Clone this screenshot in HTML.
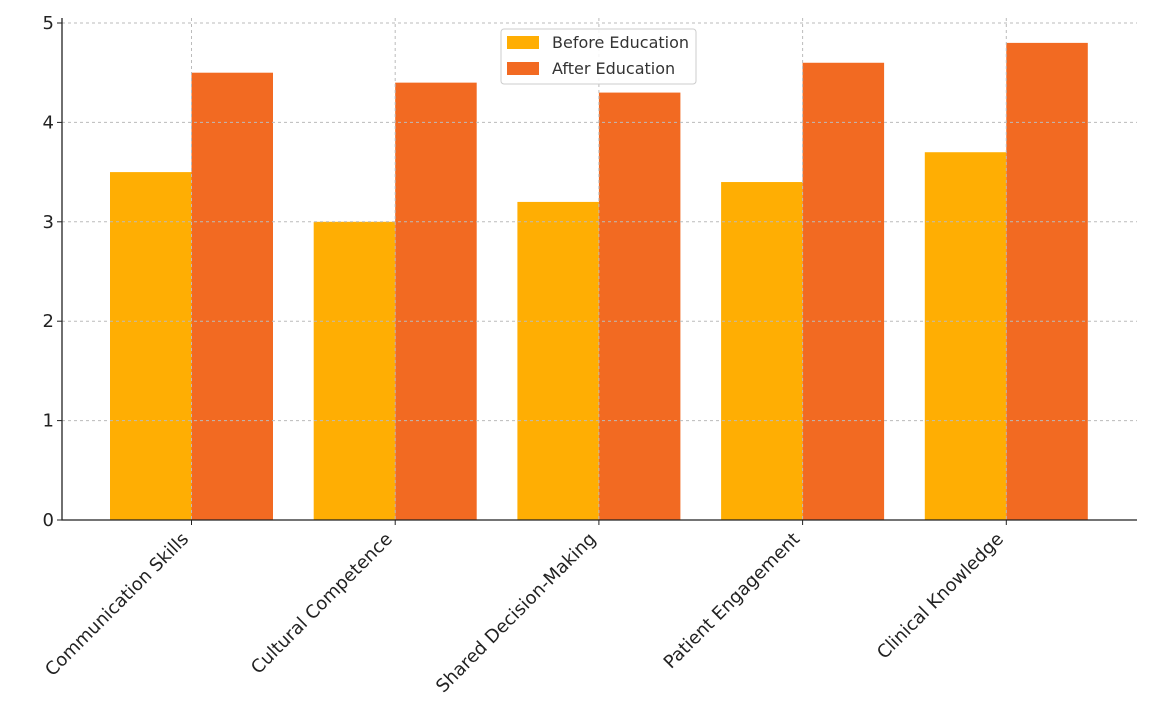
<!DOCTYPE html>
<html><head><meta charset="utf-8"><style>
html,body{margin:0;padding:0;background:#fff;}
svg{display:block;font-family:"DejaVu Sans","Liberation Sans",sans-serif;}
</style></head><body>
<svg id="chart" width="1169" height="723"></svg>
<script>
const categories=["Communication Skills","Cultural Competence","Shared Decision-Making","Patient Engagement","Clinical Knowledge"];
const beforeValues=[3.5,3.0,3.2,3.4,3.7];
const afterValues=[4.5,4.4,4.3,4.6,4.8];
const yTicks=[0,1,2,3,4,5];
const NS="http://www.w3.org/2000/svg";
const svg=document.getElementById('chart');
const L=62,R=1137,T=23,B=520,yMax=5;
const step=203.7,first=191.5,bw=81.5;
const y=v=>B-(B-T)*v/yMax;
const x=i=>first+i*step;
function mk(tag,attrs,parent){const e=document.createElementNS(NS,tag);for(const k in attrs)e.setAttribute(k,attrs[k]);(parent||svg).appendChild(e);return e;}
// bars
categories.forEach((c,i)=>{
  const b=mk('rect',{x:x(i)-bw,y:y(beforeValues[i]),width:bw,height:B-y(beforeValues[i]),fill:'#FFAE03'});
  
  
  const a=mk('rect',{x:x(i),y:y(afterValues[i]),width:bw,height:B-y(afterValues[i]),fill:'#F26A22'});
  
  
});
// grid
yTicks.forEach(t=>{
  const g=mk('line',{x1:L,x2:R,y1:y(t),y2:y(t),stroke:'#bbb','stroke-dasharray':'3,3','stroke-width':1});
  
  
  mk('line',{x1:L-5,x2:L,y1:y(t),y2:y(t),stroke:'#222'});
  const tx=mk('text',{x:L-8,y:y(t)+6,'text-anchor':'end','font-size':18,fill:'#222'});
  tx.textContent=t;
  
  
});
categories.forEach((c,i)=>{
  const g=mk('line',{x1:x(i),x2:x(i),y1:18,y2:B,stroke:'#bbb','stroke-dasharray':'3,3','stroke-width':1});
  
  
  mk('line',{x1:x(i),x2:x(i),y1:B,y2:B+5,stroke:'#222'});
  const tx=mk('text',{x:x(i)-2,y:B+20,'text-anchor':'end','font-size':18,fill:'#222',transform:`rotate(-45 ${x(i)-2} ${B+20})`});
  tx.textContent=c;
  
  
});
// axes
const ax=mk('path',{d:`M${L},${T-5}V${B}H${R}`,fill:'none',stroke:'#222','stroke-width':1.3});


// legend
const lg=mk('g',{});


mk('rect',{x:501,y:29,width:195,height:55,rx:3,fill:'#fff','fill-opacity':0.85,stroke:'#ccc'},lg);
mk('rect',{x:507,y:36,width:32,height:13,fill:'#FFAE03'},lg);
mk('rect',{x:507,y:62,width:32,height:13,fill:'#F26A22'},lg);
const t1=mk('text',{x:552,y:48,'font-size':16,fill:'#333'},lg);t1.textContent='Before Education';


const t2=mk('text',{x:552,y:74,'font-size':16,fill:'#333'},lg);t2.textContent='After Education';


</script>
</body></html>
